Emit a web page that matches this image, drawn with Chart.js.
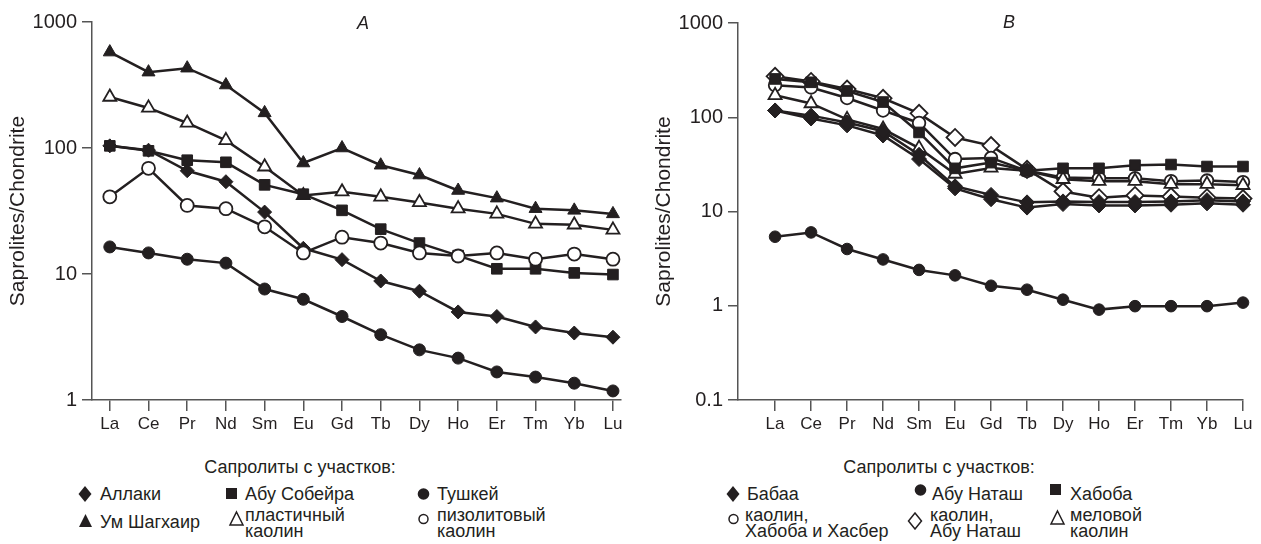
<!DOCTYPE html>
<html>
<head>
<meta charset="utf-8">
<script src="https://cdn.jsdelivr.net/npm/chart.js@4.4.0/dist/chart.umd.min.js"></script>
<style>
  body { margin: 0; width: 1261px; height: 544px; background: #fff; position: relative; overflow: hidden;
         font-family: "Liberation Sans", Arial, sans-serif; color: #231f20; }
  #wrapA { position: absolute; left: 0; top: 0; }
  #wrapB { position: absolute; left: 640px; top: 0; }
  .panel-title { position: absolute; font-size: 18px; font-style: italic; line-height: 18px; transform: translate(-50%, -50%); }
  .head { position: absolute; font-size: 18px; line-height: 18px; transform: translateX(-50%); white-space: nowrap; }
  .item { position: absolute; font-size: 18px; white-space: nowrap; }
  .mk { position: absolute; }
</style>
</head>
<body>
<div id="wrapA"><canvas id="chartA" width="630" height="440"></canvas></div>
<div id="wrapB"><canvas id="chartB" width="621" height="440"></canvas></div>
<div class="panel-title" style="left:363px; top:23px;">A</div>
<div class="panel-title" style="left:1009px; top:22px;">B</div>
<div class="head" style="left:300px; top:458px;">Сапролиты с участков:</div>
<div class="head" style="left:939px; top:458px;">Сапролиты с участков:</div>
<div id="legend"></div>

<script>
const ELEMENTS = ['La', 'Ce', 'Pr', 'Nd', 'Sm', 'Eu', 'Gd', 'Tb', 'Dy', 'Ho', 'Er', 'Tm', 'Yb', 'Lu'];
const Y_TICKS_A = [1, 10, 100, 1000];
const Y_TICKS_B = [0.1, 1, 10, 100, 1000];

// panel A
const A_ALLAKI = [104, 96, 66, 54, 31, 16, 13, 8.8, 7.3, 5.0, 4.6, 3.8, 3.4, 3.15];
const A_ABU_SOBEIRA = [104, 95, 80, 77, 51, 43, 32, 22.7, 17.6, 14, 11, 11, 10.2, 9.9];
const A_TUSHKEI = [16.4, 14.7, 13.1, 12.2, 7.6, 6.3, 4.6, 3.3, 2.5, 2.15, 1.67, 1.52, 1.36, 1.18];
const A_UM_SHAGHAIR = [577, 400, 430, 316, 190, 76, 100, 73, 61, 46, 40, 33, 32, 30];
const A_PLASTIC_KAOLIN = [254, 208, 158, 115, 71, 42, 45, 41, 37, 33, 30, 25, 24.6, 22.4];
const A_PISOLITE_KAOLIN = [41, 69, 35, 33, 23.7, 14.7, 19.6, 17.6, 14.7, 13.9, 14.7, 13.1, 14.4, 13.1];

// panel B
const B_BABAA = [118, 97, 82, 64, 36, 17.6, 13.5, 11, 12, 11.6, 11.6, 11.8, 12.2, 11.8];
const B_BABAA_2 = [118, 104, 88, 71, 40, 18.5, 15, 12.5, 12.8, 12.6, 12.6, 12.8, 13.2, 12.8];
const B_ABU_NATASH = [5.4, 6.0, 4.0, 3.1, 2.4, 2.1, 1.63, 1.48, 1.16, 0.91, 0.99, 0.99, 0.99, 1.08];
const B_KHABOBA = [255, 235, 190, 145, 69, 28.7, 33, 27, 28.7, 28.7, 31, 31.5, 30, 30];
const B_KAOLIN_KHABOBA = [219, 207, 160, 118, 87, 36, 37, 27, 23, 22.5, 22.5, 21, 21.3, 20.5];
const B_KAOLIN_ABU_NATASH = [272, 240, 199, 159, 110, 61, 50, 28, 16.3, 14, 14.8, 14.4, 14, 13.7];
const B_CHALK_KAOLIN = [171, 140, 95, 75, 47, 25, 29, 27, 22, 21, 21, 19.5, 19.5, 19];

const INK = '#231f20';
const AXIS = '#555';
const FONT = '"Liberation Sans", Arial, sans-serif';

function series(label, values, style, filled, radius) {
    return {
        label,
        data: values.map((v, i) => ({ x: i, y: v })),
        borderColor: INK,
        borderWidth: 2.5,
        pointStyle: style,
        pointRadius: radius,
        pointHoverRadius: radius,
        pointBackgroundColor: filled ? INK : '#fff',
        pointBorderColor: INK,
        pointBorderWidth: filled ? 1 : 1.8,
        tension: 0,
        fill: false,
        clip: false,
    };
}

function makeChart(id, datasets, opts) {
    return new Chart(document.getElementById(id), {
        type: 'line',
        data: { datasets },
        options: {
            responsive: false,
            animation: false,
            devicePixelRatio: 1,
            layout: { padding: { left: 0, right: opts.padRight, top: opts.padTop, bottom: 0 } },
            plugins: { legend: { display: false }, tooltip: { enabled: false } },
            scales: {
                x: {
                    type: 'linear',
                    min: opts.xMin,
                    max: opts.xMax,
                    afterBuildTicks: s => { s.ticks = ELEMENTS.map((e, i) => ({ value: i })); },
                    ticks: { callback: v => ELEMENTS[v], color: INK, font: { size: 17, family: FONT }, padding: 3, autoSkip: false, maxRotation: 0 },
                    grid: { drawOnChartArea: false, color: AXIS, tickLength: 11, lineWidth: 1.5 },
                    border: { color: AXIS, width: 1.5 },
                    afterFit: s => { s.height = 40; },
                },
                y: {
                    type: 'logarithmic',
                    min: opts.yTicks[0],
                    max: opts.yTicks[opts.yTicks.length - 1],
                    afterBuildTicks: s => { s.ticks = opts.yTicks.map(v => ({ value: v })); },
                    ticks: { callback: v => String(v), color: INK, font: { size: 20, family: FONT }, padding: 5 },
                    grid: { drawOnChartArea: false, color: AXIS, tickLength: 10, lineWidth: 1.5 },
                    border: { color: AXIS, width: 1.5 },
                    title: { display: true, text: 'Saprolites/Chondrite', color: INK, font: { size: 21, family: FONT }, padding: { top: opts.titlePad, bottom: 0 } },
                    afterFit: s => { s.width = opts.yWidth; },
                },
            },
        },
    });
}

makeChart('chartA', [
    series('Тушкей', A_TUSHKEI, 'circle', true, 6),
    series('пизолитовый каолин', A_PISOLITE_KAOLIN, 'circle', false, 6.5),
    series('Аллаки', A_ALLAKI, 'rectRot', true, 7),
    series('Абу Собейра', A_ABU_SOBEIRA, 'rect', true, 7.5),
    series('пластичный каолин', A_PLASTIC_KAOLIN, 'triangle', false, 7.5),
    series('Ум Шагхаир', A_UM_SHAGHAIR, 'triangle', true, 7.5),
], { xMin: -0.46, xMax: 13.2, padRight: 8, padTop: 22, yWidth: 92, yTicks: Y_TICKS_A, titlePad: 6 });

makeChart('chartB', [
    series('Абу Наташ', B_ABU_NATASH, 'circle', true, 5.8),
    series('Бабаа', B_BABAA_2, 'rectRot', true, 7.5),
    series('Бабаа', B_BABAA, 'rectRot', true, 7.5),
    series('Хабоба', B_KHABOBA, 'rect', true, 7.5),
    series('меловой каолин', B_CHALK_KAOLIN, 'triangle', false, 7.5),
    series('каолин, Хабоба и Хасбер', B_KAOLIN_KHABOBA, 'circle', false, 6.3),
    series('каолин, Абу Наташ', B_KAOLIN_ABU_NATASH, 'rectRot', false, 8.5),
], { xMin: -1.03, xMax: 13, padRight: 18, padTop: 23, yWidth: 98, yTicks: Y_TICKS_B, titlePad: 12 });

// legend blocks below the panels
function markerSvg(shape, filled) {
    const fill = filled ? INK : '#fff';
    const sw = filled ? 0 : 1.5;
    let body;
    if (shape === 'diamond') body = `<polygon points="8,1 14.5,9 8,17 1.5,9" fill="${fill}" stroke="${INK}" stroke-width="${sw}"/>`;
    else if (shape === 'square') body = `<rect x="3" y="3" width="11" height="11" fill="${fill}"/>`;
    else if (shape === 'circle') body = filled
        ? `<circle cx="8.5" cy="9" r="5.8" fill="${fill}"/>`
        : `<circle cx="8.5" cy="9" r="4.5" fill="#fff" stroke="${INK}" stroke-width="1.5"/>`;
    else body = `<polygon points="8.5,2 15,15 2,15" fill="${fill}" stroke="${INK}" stroke-width="${sw}"/>`;
    return `<svg width="17" height="18" viewBox="0 0 17 18">${body}</svg>`;
}

const LEGEND_ITEMS = [
    { mx: 85, my: 494, tx: 100, ty: 485, lh: 18, text: 'Аллаки', shape: 'diamond', filled: true },
    { mx: 231, my: 494, tx: 245, ty: 485, lh: 18, text: 'Абу Собейра', shape: 'square', filled: true },
    { mx: 423, my: 494, tx: 437, ty: 485, lh: 18, text: 'Тушкей', shape: 'circle', filled: true },
    { mx: 85, my: 521, tx: 100, ty: 513, lh: 18, text: 'Ум Шагхаир', shape: 'triangle', filled: true },
    { mx: 236, my: 519, tx: 245, ty: 507, lh: 16, text: 'пластичный<br>каолин', shape: 'triangle', filled: false },
    { mx: 423, my: 519, tx: 437, ty: 507, lh: 16, text: 'пизолитовый<br>каолин', shape: 'circle', filled: false },
    { mx: 733, my: 494, tx: 747, ty: 485, lh: 18, text: 'Бабаа', shape: 'diamond', filled: true },
    { mx: 920, my: 490, tx: 932, ty: 485, lh: 18, text: 'Абу Наташ', shape: 'circle', filled: true },
    { mx: 1055, my: 490, tx: 1070, ty: 485, lh: 18, text: 'Хабоба', shape: 'square', filled: true },
    { mx: 733, my: 519, tx: 745, ty: 507, lh: 16, text: 'каолин,<br>Хабоба и Хасбер', shape: 'circle', filled: false },
    { mx: 915, my: 521, tx: 930, ty: 507, lh: 16, text: 'каолин,<br>Абу Наташ', shape: 'diamond', filled: false },
    { mx: 1057, my: 518, tx: 1070, ty: 507, lh: 16, text: 'меловой<br>каолин', shape: 'triangle', filled: false },
];

const legend = document.getElementById('legend');
LEGEND_ITEMS.forEach(it => {
    const m = document.createElement('div');
    m.className = 'mk';
    m.style.left = (it.mx - 8.5) + 'px';
    m.style.top = (it.my - 9) + 'px';
    m.innerHTML = markerSvg(it.shape, it.filled);
    legend.appendChild(m);
    const t = document.createElement('div');
    t.className = 'item';
    t.style.left = it.tx + 'px';
    t.style.top = it.ty + 'px';
    t.style.lineHeight = it.lh + 'px';
    t.innerHTML = it.text;
    legend.appendChild(t);
});
</script>
</body>
</html>
